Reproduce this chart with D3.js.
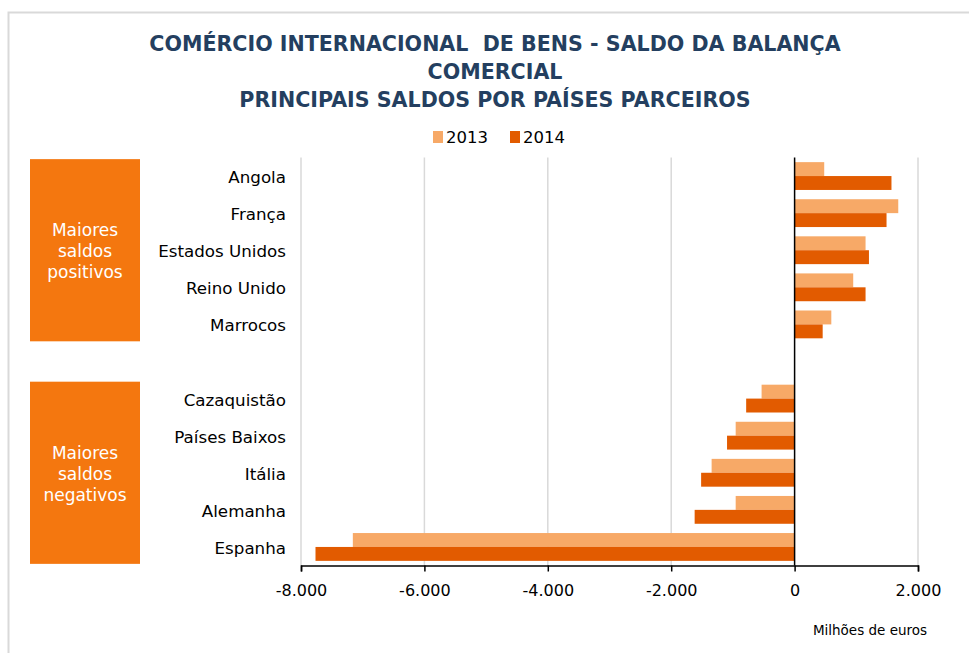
<!DOCTYPE html>
<html>
<head>
<meta charset="utf-8">
<script src="https://d3js.org/d3.v7.min.js"></script>
<style>
  body { margin: 0; background: #fff; }
  text { font-family: "DejaVu Sans", Verdana, sans-serif; white-space: pre; }
</style>
</head>
<body>
<div id="chart"></div>
<script>
// categories top to bottom, "" is the blank slot between the two groups
var categories = ["Angola", "França", "Estados Unidos", "Reino Unido", "Marrocos", "",
                  "Cazaquistão", "Países Baixos", "Itália", "Alemanha", "Espanha"];
var values2013 = [480, 1680, 1150, 950, 595, null, -535, -955, -1345, -955, -7160];
var values2014 = [1570, 1490, 1205, 1150, 455, null, -785, -1095, -1515, -1620, -7765];
var series = ["2013", "2014"];
var xTicks = [-8000, -6000, -4000, -2000, 0, 2000];
var groupLabels = [["Maiores", "saldos", "positivos"], ["Maiores", "saldos", "negativos"]];
var groupMembers = [["Angola", "Marrocos"], ["Cazaquistão", "Espanha"]];
var titleLines = ["COMÉRCIO INTERNACIONAL  DE BENS - SALDO DA BALANÇA", "COMERCIAL",
                  "PRINCIPAIS SALDOS POR PAÍSES PARCEIROS"];

var W = 969, H = 653;
var colors = {"2013": "#F7A967", "2014": "#E25B00"};

var svg = d3.select("#chart").append("svg")
    .attr("width", W).attr("height", H);

// chart frame (only the top and left edges are in view)
svg.append("rect")
    .attr("x", 8.5).attr("y", 12.5)
    .attr("width", 1000).attr("height", 700)
    .attr("fill", "none").attr("stroke", "#d9d9d9").attr("stroke-width", 2);

// title
svg.append("text")
    .attr("x", 495).attr("y", 51)
    .attr("text-anchor", "middle")
    .attr("fill", "#243F60")
    .attr("font-weight", "bold")
    .attr("font-size", 20.6)
    .selectAll("tspan").data(titleLines).enter().append("tspan")
    .attr("x", 495)
    .attr("dy", function(d, i) { return i === 0 ? 0 : 28; })
    .text(function(d) { return d; });

// scales
var x = d3.scaleLinear().domain([-8000, 2000]).range([301, 918]);
var y = d3.scaleBand().domain(categories).range([157.5, 565.5])
    .paddingInner(0.25).paddingOuter(0.125);
var ySub = d3.scaleBand().domain(series).range([0, y.bandwidth()]);

// gridlines
svg.append("g").selectAll("line")
    .data(xTicks.filter(function(d) { return d !== 0; }))
    .enter().append("line")
    .attr("x1", function(d) { return x(d); }).attr("x2", function(d) { return x(d); })
    .attr("y1", 157.5).attr("y2", 565.5)
    .attr("stroke", "#d9d9d9").attr("stroke-width", 1.5);

// legend
var legend = svg.append("g").selectAll("g").data(series).enter().append("g")
    .attr("transform", function(d, i) { return "translate(" + (433 + i * 77) + ",131)"; });
legend.append("rect").attr("width", 10).attr("height", 12)
    .attr("fill", function(d) { return colors[d]; });
legend.append("text").attr("x", 13).attr("y", 12)
    .attr("font-size", 16.5).attr("fill", "#000")
    .text(function(d) { return d; });

// group boxes
var boxes = svg.append("g").selectAll("g").data(groupMembers).enter().append("g");
boxes.append("rect")
    .attr("x", 30).attr("width", 110)
    .attr("y", function(d) { return y(d[0]) - 3; })
    .attr("height", function(d) { return y(d[1]) + y.bandwidth() + 3 - y(d[0]) + 3; })
    .attr("fill", "#F4770F");
boxes.append("text")
    .attr("text-anchor", "middle").attr("fill", "#fff").attr("font-size", 17)
    .selectAll("tspan")
    .data(function(d, i) {
      var mid = (y(d[0]) + y(d[1]) + y.bandwidth()) / 2;
      return groupLabels[i].map(function(t, j) { return {t: t, y: mid - 14 + j * 21}; });
    })
    .enter().append("tspan")
    .attr("x", 85).attr("y", function(d) { return d.y; })
    .text(function(d) { return d.t; });

// category labels
svg.append("g").selectAll("text").data(categories.filter(function(c) { return c; }))
    .enter().append("text")
    .attr("x", 286)
    .attr("y", function(d) { return y(d) + y.bandwidth() / 2 + 7; })
    .attr("text-anchor", "end").attr("font-size", 16.7).attr("fill", "#000")
    .text(function(d) { return d; });

// bars
var rows = categories.map(function(c, i) {
  return {cat: c, vals: [{s: "2013", v: values2013[i]}, {s: "2014", v: values2014[i]}]};
}).filter(function(r) { return r.cat; });

svg.append("g").selectAll("g").data(rows).enter().append("g")
    .attr("transform", function(d) { return "translate(0," + y(d.cat) + ")"; })
    .selectAll("rect").data(function(d) { return d.vals; }).enter().append("rect")
    .attr("x", function(d) { return x(Math.min(0, d.v)); })
    .attr("width", function(d) { return Math.abs(x(d.v) - x(0)); })
    .attr("y", function(d) { return ySub(d.s); })
    .attr("height", ySub.bandwidth())
    .attr("fill", function(d) { return colors[d.s]; });

// zero line
svg.append("line")
    .attr("x1", x(0)).attr("x2", x(0)).attr("y1", 157.5).attr("y2", 565.5)
    .attr("stroke", "#000").attr("stroke-width", 1.5);

// x axis
var xAxis = svg.append("g")
    .attr("transform", "translate(0,565.5)")
    .call(d3.axisBottom(x).tickValues(xTicks).tickSizeOuter(0).tickSize(6)
      .tickFormat(function(d) { return (d < 0 ? "-" : "") + d3.format(",")(Math.abs(d)).replace(/,/g, "."); }));
xAxis.select(".domain").attr("stroke", "#000").attr("stroke-width", 1.5);
xAxis.selectAll(".tick line").attr("stroke", "#000").attr("stroke-width", 1.5);
xAxis.selectAll(".tick text")
    .attr("font-family", "DejaVu Sans, sans-serif")
    .attr("font-size", 16).attr("fill", "#000").attr("dy", "1.35em");

svg.append("text")
    .attr("x", 870).attr("y", 635)
    .attr("text-anchor", "middle").attr("font-size", 13.5).attr("fill", "#000")
    .text("Milhões de euros");
</script>
</body>
</html>
